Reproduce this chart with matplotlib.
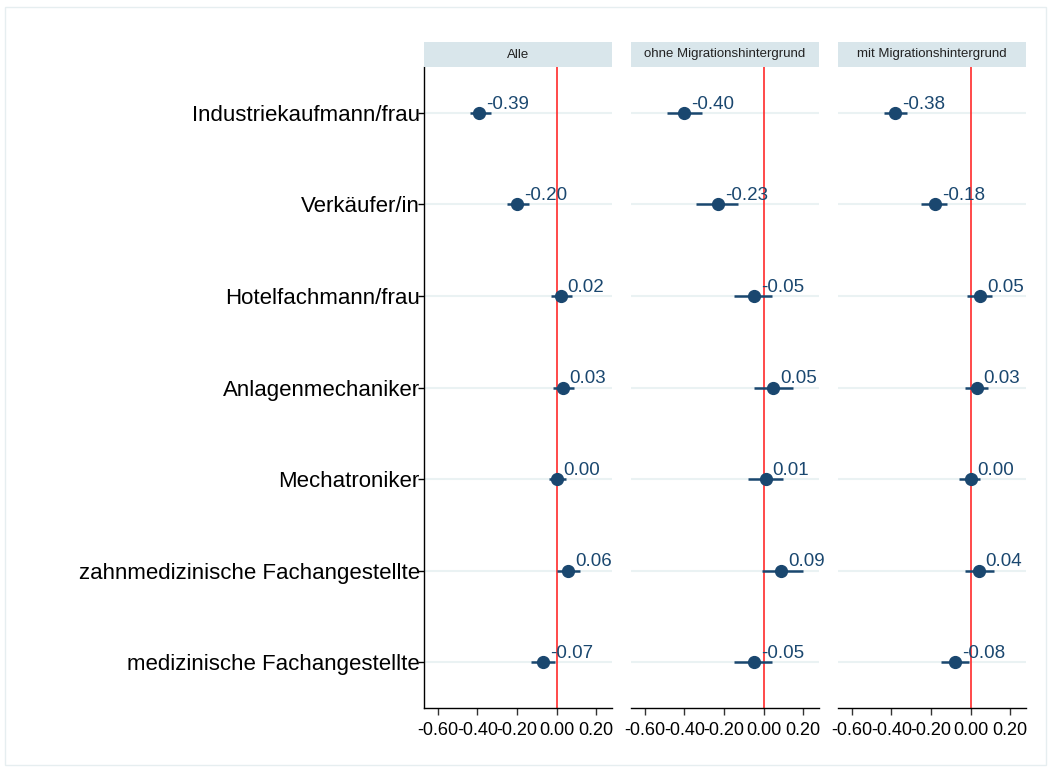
import matplotlib
matplotlib.use("Agg")
import matplotlib.pyplot as plt
from matplotlib.patches import Rectangle

plt.rcParams['font.family'] = ['Liberation Sans', 'DejaVu Sans']

categories = ["Industriekaufmann/frau", "Verkäufer/in", "Hotelfachmann/frau",
              "Anlagenmechaniker", "Mechatroniker", "zahnmedizinische Fachangestellte",
              "medizinische Fachangestellte"]
panels = ["Alle", "ohne Migrationshintergrund", "mit Migrationshintergrund"]

est_alle = [-0.39, -0.20, 0.02, 0.03, 0.00, 0.06, -0.07]
lo_alle = [-0.44, -0.25, -0.03, -0.02, -0.04, 0.00, -0.13]
hi_alle = [-0.33, -0.14, 0.08, 0.09, 0.05, 0.12, -0.01]

est_ohne = [-0.40, -0.23, -0.05, 0.05, 0.01, 0.09, -0.05]
lo_ohne = [-0.49, -0.34, -0.15, -0.05, -0.08, -0.01, -0.15]
hi_ohne = [-0.31, -0.13, 0.04, 0.15, 0.10, 0.20, 0.04]

est_mit = [-0.38, -0.18, 0.05, 0.03, 0.00, 0.04, -0.08]
lo_mit = [-0.44, -0.25, -0.02, -0.03, -0.06, -0.03, -0.15]
hi_mit = [-0.32, -0.12, 0.11, 0.09, 0.05, 0.12, -0.01]

xticks = [-0.60, -0.40, -0.20, 0.00, 0.20]

series = [(est_alle, lo_alle, hi_alle), (est_ohne, lo_ohne, hi_ohne), (est_mit, lo_mit, hi_mit)]

W, H = 1051, 772
fig = plt.figure(figsize=(W / 100, H / 100), dpi=100)
fig.patches.append(Rectangle((5 / W, 7 / H), 1041 / W, 758 / H, transform=fig.transFigure,
                             fill=False, edgecolor="#e6eef0", linewidth=1.0))

navy = "#1a476f"
lefts = [424, 631, 838]
pw = 188
top, bottom = 67, 708
hdr_top = 42

for i, (name, (est, lo, hi)) in enumerate(zip(panels, series)):
    ax = fig.add_axes([lefts[i] / W, 1 - bottom / H, pw / W, (bottom - top) / H])
    ypos = list(range(1, len(categories) + 1))
    for y in ypos:
        ax.axhline(y, color="#eaf2f3", linewidth=1.5, zorder=0)
    ax.axvline(0, color="#ff2a2a", linewidth=1.2, zorder=1)
    for y, e, l, h in zip(ypos, est, lo, hi):
        ax.plot([l, h], [y, y], color=navy, linewidth=1.8, zorder=2, solid_capstyle="butt")
        ax.plot([e], [y], "o", color=navy, markersize=8.5, zorder=3)
        ax.annotate(f"{e:.2f}", (e, y), xytext=(5, 3), textcoords="offset points",
                    fontsize=13.5, color=navy, ha="left", va="baseline")
    ax.set_xlim(-0.67, 0.28)
    ax.set_ylim(7.5, 0.5)
    ax.set_xticks(xticks)
    ax.set_xticklabels([f"{t:.2f}" for t in xticks], fontsize=13)
    ax.tick_params(axis="x", direction="out", length=5, width=1, color="#333333", pad=5)
    for s in ["top", "right"]:
        ax.spines[s].set_visible(False)
    ax.spines["bottom"].set_linewidth(1)
    if i == 0:
        ax.set_yticks(ypos)
        ax.set_yticklabels(categories, fontsize=16)
        ax.tick_params(axis="y", direction="out", length=4, width=1, pad=-1)
        ax.spines["left"].set_linewidth(1)
    else:
        ax.set_yticks([])
        ax.spines["left"].set_visible(False)
    hax = fig.add_axes([lefts[i] / W, 1 - top / H, pw / W, (top - hdr_top) / H])
    hax.set_facecolor("#d9e6eb")
    hax.set_xticks([])
    hax.set_yticks([])
    for s in hax.spines.values():
        s.set_visible(False)
    hax.text(0.5, 0.5, name, ha="center", va="center", fontsize=9.5, color="#222222",
             transform=hax.transAxes)

fig.savefig("out.png", dpi=100)
